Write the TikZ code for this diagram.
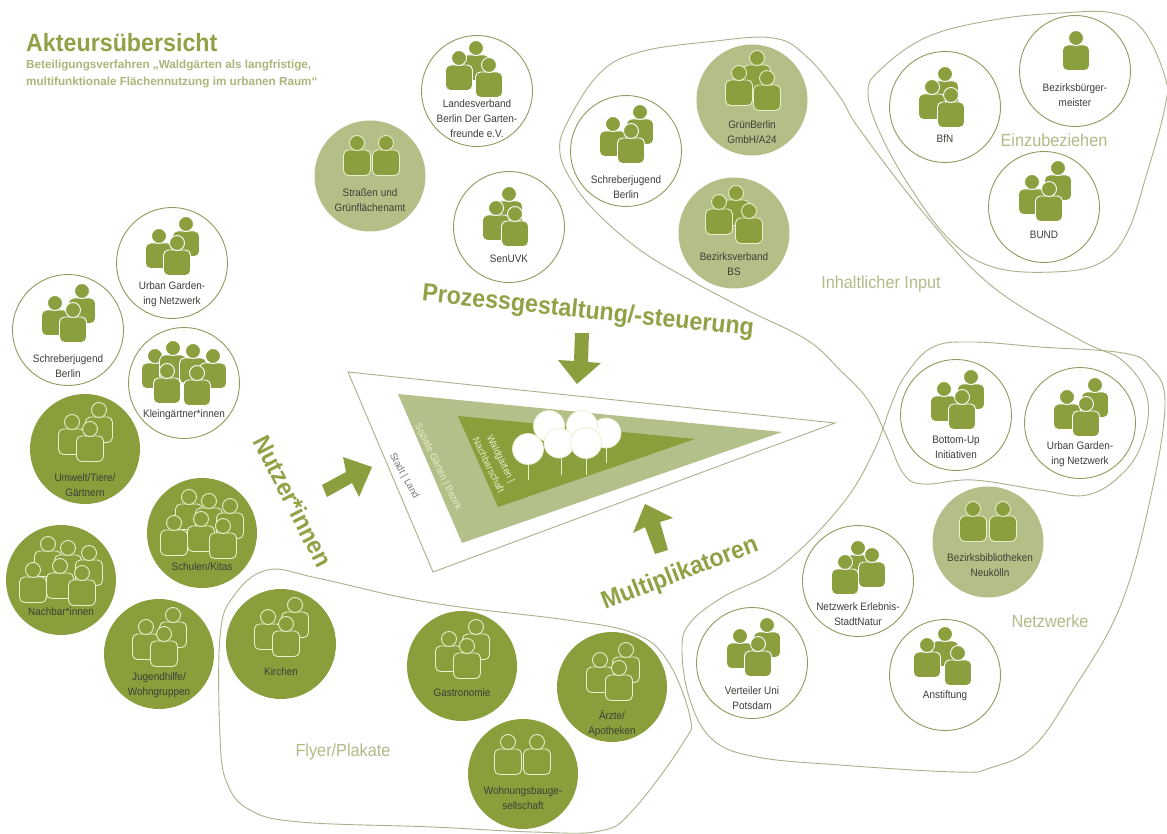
\documentclass[tikz,border=0pt]{standalone}
\usepackage{fontspec}
\setmainfont{Liberation Sans}
\newfontfamily\narrowf[FakeStretch=0.93]{Liberation Sans}
\newfontfamily\labf[FakeStretch=0.92]{Liberation Sans}
\definecolor{icon}{HTML}{8C9F3F}
\definecolor{dark}{HTML}{8A9E3C}
\definecolor{lightc}{HTML}{B3BF87}
\definecolor{pale}{HTML}{E9EECB}
\definecolor{blobline}{HTML}{A9B08A}
\definecolor{ringc}{HTML}{8E9A5E}
\definecolor{headc}{HTML}{8FA245}
\definecolor{grouplab}{HTML}{B0BC88}
\definecolor{midtri}{HTML}{B3C08A}
\definecolor{labc}{HTML}{3C3F36}
\tikzset{
 wcirc/.style={circle,minimum size=111pt,inner sep=0pt,fill=white,draw=ringc,line width=.9pt},
 lcirc/.style={circle,minimum size=111pt,inner sep=0pt,fill=lightc},
 dcirc/.style={circle,minimum size=110pt,inner sep=0pt,fill=dark},
 pfill/.style={fill=icon,draw=white,line width=.9pt},
 pmid/.style={fill=icon,draw=pale,line width=.9pt},
 pline/.style={fill=dark,draw=pale,line width=.9pt},
 lab/.style={font=\fontsize{10.8}{15}\selectfont\labf,text=labc,align=center,inner sep=0pt},
 blob/.style={draw=blobline,line width=.9pt},
 grp/.style={text=grouplab,inner sep=0pt,font=\fontsize{17.5}{20}\selectfont\narrowf},
 big/.style={font=\fontsize{25}{28}\selectfont\narrowf\bfseries,text=headc,inner sep=0pt},
 blockarrow/.style={fill=icon,draw=none},
 tree/.style={fill=white,draw=pale,line width=.7pt},
 trunk/.style={draw=pale,line width=1pt},
 trilab/.style={font=\fontsize{10}{14}\selectfont\narrowf,align=center,inner sep=0pt}
}
% name, x, y, circle style, person style, head offsets
\newcommand\actor[6]{%
 \node[#4] (#1) at (#2,#3) {};
 \begin{scope}[shift={(#2,#3)}]
 \edef\headlist{#6}
 \foreach \a/\b in \headlist {
  \path[#5,rounded corners=5pt] (\a-13.5,\b+32.5) -- (\a-13.5,\b+7) -- (\a+13.5,\b+7) -- (\a+13.5,\b+32.5) -- cycle;
  \path[#5] (\a,\b) circle[radius=7.5pt];
 }
 \end{scope}}
\newcommand\lbl[4]{\node[lab] (#1) at (#2,#3) {#4};}
\begin{document}
\begin{tikzpicture}[x=1pt,y=-1pt]
\useasboundingbox (0,0) rectangle (1167,834);
\fill[white] (0,0) rectangle (1167,834);
% group outlines
\draw[blob] plot[smooth cycle,tension=.65] coordinates {(560,153) (567,123) (600,73) (640,52) (707,42) (773,38) (807,57) (840,97) (860,130) (927,217) (993,287) (1080,340) (1123,361) (1147,397) (1143,440) (1123,473) (1087,495) (1040,490) (973,480) (923,484) (903,473) (887,437) (868,400) (840,370) (807,340) (747,310) (690,280) (640,250) (597,213) (573,183)};
\draw[blob] plot[smooth cycle,tension=.65] coordinates {(868,93) (880,70) (927,37) (993,20) (1060,13) (1113,13) (1143,30) (1165,77) (1165,107) (1147,173) (1127,233) (1100,263) (1053,272) (993,267) (950,240) (910,187) (880,133)};
\draw[blob] plot[smooth cycle,tension=.65] coordinates {(907,373) (933,347) (973,342) (1040,347) (1123,353) (1150,367) (1165,403) (1150,500) (1120,607) (1073,690) (1033,747) (990,768) (957,772) (840,765) (757,757) (713,740) (690,700) (682,650) (690,623) (723,597) (780,567) (840,507) (873,453) (893,400)};
\draw[blob] plot[smooth cycle,tension=.65] coordinates {(220,637) (233,597) (267,570) (317,578) (400,597) (467,608) (567,620) (633,633) (667,660) (690,717) (683,743) (633,810) (600,831) (533,832) (433,827) (300,822) (250,810) (227,783) (220,737)};
% centre triangle
\draw[blobline,line width=.9pt,fill=white] (348,372) -- (835,423) -- (433,572) -- cycle;
\fill[midtri] (398,394) -- (782,432) -- (462,543) -- cycle;
\fill[dark] (458,416) -- (695,439) -- (498,507) -- cycle;
\foreach \x/\yt/\yb in {528/465/480,561/458/475,586/458/475,606/448/463}{\draw[trunk] (\x,\yt) -- (\x,\yb);}
\foreach \x/\y/\r in {606/433/15,549/426/15.5,582/426/15.5,528/449/15.5,559/443/15,586/443/15.5}{\path[tree] (\x,\y) circle[radius=\r pt];}
\node[trilab,text=labc!70,rotate=-61] (stadt) at (404,476) {Stadt | Land};
\node[trilab,text=pale,rotate=-64] (sozial) at (438,467) {Soziale Gärten | Bezirk};
\node[trilab,text=pale,rotate=-64] (waldg) at (495,462) {Waldgärten |\\Nachbarschaft};
% block arrows
\fill[blockarrow] (575,333) -- (589,333) -- (588,362) -- (601,363) -- (577,384) -- (558,360) -- (574,361) -- cycle;
\fill[blockarrow] (322,485) -- (346,472) -- (343,457) -- (372,467) -- (359,497) -- (352,483) -- (327,497) -- cycle;
\fill[blockarrow] (655,554) -- (645,527) -- (633,533) -- (645,504) -- (673,518) -- (660,522) -- (668,550) -- cycle;
% headings
\node[anchor=west,text=headc,font=\fontsize{25}{26}\selectfont\narrowf\bfseries,inner sep=0pt] (title) at (26,43) {Akteursübersicht};
\node[anchor=west,text=grouplab!80!headc,font=\fontsize{11.7}{17}\selectfont\bfseries,align=left,inner sep=0pt] (sub) at (26,74.5) {Beteiligungsverfahren „Waldgärten als langfristige,\\multifunktionale Flächennutzung im urbanen Raum“};
\node[big,rotate=-6] (prozess) at (588,312) {Prozessgestaltung/-steuerung};
\node[big,rotate=-63] (nutzer) at (293,501) {Nutzer*innen};
\node[big,rotate=21] (multi) at (680,574) {Multiplikatoren};
\node[grp] (einz) at (1054,140) {Einzubeziehen};
\node[grp] (inh) at (881,284) {Inhaltlicher Input};
\node[grp] (netz) at (1050,621) {Netzwerke};
\node[grp] (fly) at (343,752) {Flyer/Plakate};
% actors
\def\three{14/-39,-13/-27,5/-20}
\def\six{-13/-36,7/-32,28/-27,-28/-10,-1/-14,21/-7}
\actor{a1}{477}{91}{wcirc}{pfill}{-1/-43,-18/-33,12/-26}
\lbl{l1}{477}{118.5}{Landesverband\\Berlin Der Garten-\\freunde e.V.}
\actor{a2}{509}{227}{wcirc}{pfill}{0/-33,-13/-19,6/-13}
\lbl{l2}{509}{259}{SenUVK}
\actor{a3}{370}{176}{lcirc}{pmid}{-13/-33,16/-33}
\lbl{l3}{370}{200}{Straßen und\\Grünflächenamt}
\actor{a4}{172}{263}{wcirc}{pfill}{\three}
\lbl{l4}{172}{294}{Urban Garden-\\ing Netzwerk}
\actor{a5}{68}{330}{wcirc}{pfill}{\three}
\lbl{l5}{68}{366}{Schreberjugend\\Berlin}
\actor{a6}{184}{383}{wcirc}{pfill}{-29/-27,-11/-35,9/-32,29/-27,-17/-12,13/-10}
\lbl{l6}{184}{415}{Kleingärtner*innen}
\actor{a7}{85}{449}{dcirc}{pline}{\three}
\lbl{l7}{85}{485}{Umwelt/Tiere/\\Gärtnern}
\actor{a8}{202}{533}{dcirc}{pline}{\six}
\lbl{l8}{202}{567}{Schulen/Kitas}
\actor{a9}{61}{580}{dcirc}{pline}{\six}
\lbl{l9}{61}{612}{Nachbar*innen}
\actor{a10}{159}{654}{dcirc}{pline}{\three}
\lbl{l10}{159}{685}{Jugendhilfe/\\Wohngruppen}
\actor{a11}{281}{644}{dcirc}{pline}{\three}
\lbl{l11}{281}{672}{Kirchen}
\actor{a12}{462}{666}{dcirc}{pline}{\three}
\lbl{l12}{462}{693}{Gastronomie}
\actor{a13}{612}{687}{dcirc}{pline}{14/-37,-12/-27,7/-19}
\lbl{l13}{612}{724}{Ärzte/\\Apotheken}
\actor{a14}{523}{774}{dcirc}{pline}{-15/-32,14/-32}
\lbl{l14}{523}{798}{Wohnungsbauge-\\sellschaft}
\actor{a15}{626}{151}{wcirc}{pfill}{\three}
\lbl{l15}{626}{187}{Schreberjugend\\Berlin}
\actor{a16}{752}{100}{lcirc}{pmid}{5/-42,-13/-27,15/-22}
\lbl{l16}{752}{132}{GrünBerlin\\GmbH/A24}
\actor{a17}{734}{233}{lcirc}{pmid}{2/-40,-15/-31,15/-22}
\lbl{l17}{734}{264}{Bezirksverband\\BS}
\actor{a18}{945}{107}{wcirc}{pfill}{0/-33,-13/-20,6/-12}
\lbl{l18}{945}{139}{BfN}
\actor{a19}{1075}{71}{wcirc}{pfill}{1/-33}
\lbl{l19}{1075}{95}{Bezirksbürger-\\meister}
\actor{a20}{1044}{207}{wcirc}{pfill}{14/-39,-12/-25,5/-18}
\lbl{l20}{1044}{235}{BUND}
\actor{a21}{956}{415}{wcirc}{pfill}{15/-38,-12/-26,6/-18}
\lbl{l21}{956}{447}{Bottom-Up\\Initiativen}
\actor{a22}{1080}{423}{wcirc}{pfill}{15/-38,-13/-26,6/-19}
\lbl{l22}{1080}{454}{Urban Garden-\\ing Netzwerk}
\actor{a23}{988}{542}{lcirc}{pmid}{-15/-33,15/-33}
\lbl{l23}{990}{565}{Bezirksbibliotheken\\Neukölln}
\actor{a24}{858}{581}{wcirc}{pfill}{0/-33,14/-26,-13/-19}
\lbl{l24}{858}{614}{Netzwerk Erlebnis-\\StadtNatur}
\actor{a25}{945}{675}{wcirc}{pfill}{0/-41,-18/-30,13/-22}
\lbl{l25}{945}{696}{Anstiftung}
\actor{a26}{752}{663}{wcirc}{pfill}{15/-38,-12/-27,6/-19}
\lbl{l26}{752}{698}{Verteiler Uni\\Potsdam}
\end{tikzpicture}
\end{document}
